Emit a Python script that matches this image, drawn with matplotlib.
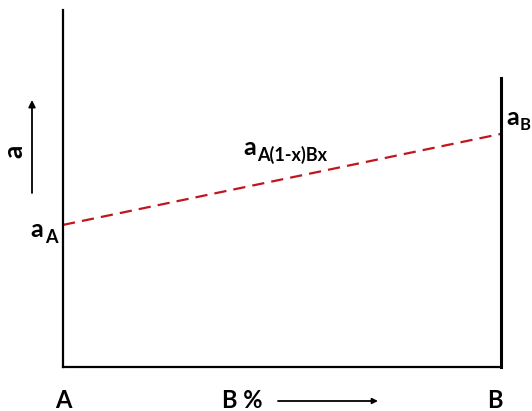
import matplotlib.pyplot as plt

plt.rcParams['font.family'] = ['Lato', 'DejaVu Sans']
plt.rcParams['font.weight'] = 'bold'

# composition (B %) and lattice parameter a (arbitrary units)
comp = [0, 100]
lattice = [3.98, 6.53]
right_top = 8.1

W, H = 532, 411
fig = plt.figure(figsize=(W / 100, H / 100), dpi=100)
ax = fig.add_axes([63 / W, 1 - 367 / H, (501 - 63) / W, 357 / H])
ax.set_xlim(0, 100)
ax.set_ylim(0, 10)
ax.plot(comp, lattice, color='#C0161C', lw=1.6, dashes=(5.5, 3.2))

ax.spines['top'].set_visible(False)
for s in ['left', 'bottom']:
    ax.spines[s].set_linewidth(1.6)
ax.spines['right'].set_linewidth(2.2)
ax.spines['right'].set_bounds(0, right_top)
ax.set_xticks([])
ax.set_yticks([])


def px(x, y):
    return x / W, 1 - y / H


def sub_label(x, y, base, sub, dx, dy, fs=18, sfs=13):
    fig.text(*px(x, y), base, fontsize=fs, fontweight='bold', va='baseline', ha='left')
    fig.text(*px(x + dx, y + dy), sub, fontsize=sfs, fontweight='bold', va='baseline', ha='left')


sub_label(30, 237, 'a', 'A', 15, 6)
sub_label(506, 125, 'a', 'B', 14, 5, sfs=12)
sub_label(243, 155, 'a', 'A(1-x)Bx', 14, 6)

fig.text(*px(63, 408), 'A', fontsize=17, fontweight='bold', ha='center', va='baseline')
fig.text(*px(495, 408), 'B', fontsize=17, fontweight='bold', ha='center', va='baseline')
fig.text(*px(222, 408), 'B %', fontsize=17, fontweight='bold', ha='left', va='baseline')
fig.text(*px(14, 151), 'a', fontsize=19, fontweight='bold', ha='center', va='center', rotation=90)

fig.add_artist(plt.Annotation('', xy=px(378, 401), xytext=px(278, 401),
                              xycoords='figure fraction', textcoords='figure fraction',
                              arrowprops=dict(arrowstyle='-|>', color='black', lw=1.3,
                                              mutation_scale=8, shrinkA=0, shrinkB=0)))
fig.add_artist(plt.Annotation('', xy=px(32, 100), xytext=px(32, 193),
                              xycoords='figure fraction', textcoords='figure fraction',
                              arrowprops=dict(arrowstyle='-|>', color='black', lw=1.3,
                                              mutation_scale=10, shrinkA=0, shrinkB=0)))

fig.savefig('out.png', dpi=100)
